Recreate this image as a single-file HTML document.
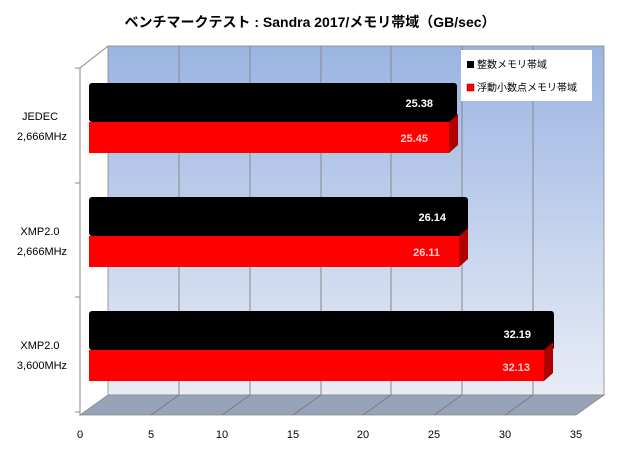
<!DOCTYPE html>
<html><head><meta charset="utf-8"><style>
body{margin:0;background:#fff;}
svg text{font-family:"Liberation Sans","Noto Sans CJK JP",sans-serif;}
</style></head><body>
<svg width="620" height="450" viewBox="0 0 620 450" xmlns="http://www.w3.org/2000/svg">
<defs>
<linearGradient id="wall" x1="0" y1="0" x2="0" y2="1">
<stop offset="0" stop-color="#9ab4e2"/><stop offset="1" stop-color="#e8edf6"/></linearGradient>
</defs>
<text x="310" y="27" text-anchor="middle" font-size="14" font-weight="bold" fill="#000">ベンチマークテスト : Sandra 2017/メモリ帯域（GB/sec）</text>
<rect x="108" y="46" width="496" height="349" fill="url(#wall)" stroke="#888" stroke-width="0.8"/>
<g stroke="#888" stroke-width="1">
<line x1="179" y1="46" x2="179" y2="395"/><line x1="250" y1="46" x2="250" y2="395"/>
<line x1="321" y1="46" x2="321" y2="395"/><line x1="391" y1="46" x2="391" y2="395"/>
<line x1="462" y1="46" x2="462" y2="395"/><line x1="533" y1="46" x2="533" y2="395"/>
</g>
<polygon points="80,415 576,415 604,395 108,395" fill="#97a3b8" stroke="#888" stroke-width="0.8"/>
<g stroke="#777" stroke-width="0.8">
<line x1="151" y1="415" x2="179" y2="395"/><line x1="222" y1="415" x2="250" y2="395"/>
<line x1="293" y1="415" x2="321" y2="395"/><line x1="363" y1="415" x2="391" y2="395"/>
<line x1="434" y1="415" x2="462" y2="395"/><line x1="505" y1="415" x2="533" y2="395"/>
</g>
<g stroke="#888" stroke-width="1">
<line x1="80" y1="68" x2="80" y2="415"/><line x1="80" y1="68" x2="108" y2="46"/>
<line x1="75" y1="68" x2="80" y2="68"/><line x1="75" y1="183" x2="80" y2="183"/>
<line x1="75" y1="297" x2="80" y2="297"/><line x1="75" y1="412" x2="80" y2="412"/>
</g>
<!-- bars -->
<g font-size="11" font-weight="bold" fill="#fff" text-anchor="end">
<rect x="89" y="83" width="368" height="39" rx="3" fill="#000"/>
<rect x="89" y="122" width="360" height="31" fill="#f00"/>
<polygon points="449,122 458,114 458,145 449,153" fill="#b00000"/>
<text x="433" y="107">25.38</text><text x="428" y="142" fill="#ffd0d0">25.45</text>

<rect x="89" y="197" width="379" height="39" rx="3" fill="#000"/>
<rect x="89" y="236" width="370" height="31" fill="#f00"/>
<polygon points="459,236 468,228 468,259 459,267" fill="#b00000"/>
<text x="446" y="221">26.14</text><text x="440" y="256" fill="#ffd0d0">26.11</text>

<rect x="89" y="311" width="465" height="39" rx="3" fill="#000"/>
<rect x="89" y="350" width="455" height="31" fill="#f00"/>
<polygon points="544,350 553,342 553,373 544,381" fill="#b00000"/>
<text x="531" y="338">32.19</text><text x="530" y="371" fill="#ffd0d0">32.13</text>
</g>
<g font-size="11" fill="#000" text-anchor="middle">
<text x="40" y="120">JEDEC</text><text x="42" y="140">2,666MHz</text>
<text x="40" y="235">XMP2.0</text><text x="42" y="255">2,666MHz</text>
<text x="40" y="349">XMP2.0</text><text x="42" y="369">3,600MHz</text>
<text x="80" y="438">0</text><text x="151" y="438">5</text><text x="222" y="438">10</text>
<text x="293" y="438">15</text><text x="363" y="438">20</text><text x="434" y="438">25</text>
<text x="505" y="438">30</text><text x="576" y="438">35</text>
</g>
<rect x="461" y="50" width="131" height="51" fill="#fff"/>
<rect x="467" y="61" width="7" height="7" fill="#000"/>
<rect x="467" y="84" width="7" height="7" fill="#f00" stroke="#800" stroke-width="0.5"/>
<g font-size="10" fill="#000"><text x="477" y="68">整数メモリ帯域</text><text x="477" y="91">浮動小数点メモリ帯域</text></g>
</svg>
</body></html>
